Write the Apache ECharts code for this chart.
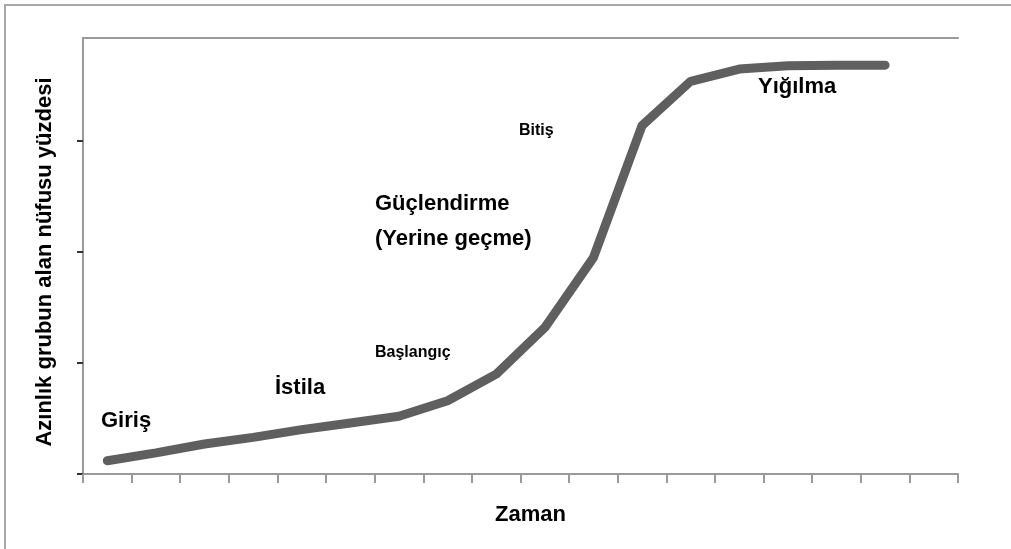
<!DOCTYPE html>
<html>
<head>
<meta charset="utf-8">
<script src="https://cdn.jsdelivr.net/npm/echarts@6/dist/echarts.min.js"></script>
<style>
html,body{margin:0;padding:0;background:#fff;}
#c{width:1011px;height:549px;}
</style>
</head>
<body>
<div id="c"></div>
<script>
// Data
var categories = ['1','2','3','4','5','6','7','8','9','10','11','12','13','14','15','16','17','18'];
var shareValues = [0.12, 0.19, 0.27, 0.33, 0.40, 0.46, 0.52, 0.66, 0.90, 1.32, 1.95, 3.14, 3.54, 3.65, 3.68, 3.685, 3.685, null];
var yTickValues = [0, 1, 2, 3];
var yMax = 3.93;
var xTitle = 'Zaman';
var yTitle = 'Azınlık grubun alan nüfusu yüzdesi';
var stageLabels = ['Giriş', 'İstila', 'Başlangıç', 'Güçlendirme', '(Yerine geçme)', 'Bitiş', 'Yığılma'];

var FONT = '"Liberation Sans", Arial, sans-serif';
var chart = echarts.init(document.getElementById('c'), null, {renderer: 'canvas'});

function lbl(text, x, y, size) {
  return {
    type: 'text', x: x, y: y, silent: true,
    style: {text: text, fill: '#000', font: 'bold ' + size + 'px ' + FONT, textAlign: 'left', textVerticalAlign: 'middle'}
  };
}

chart.setOption({
  animation: false,
  backgroundColor: '#fff',
  grid: {left: 83, right: 53, top: 38, bottom: 75, containLabel: false},
  xAxis: [{
    type: 'category', data: categories, boundaryGap: true, position: 'bottom',
    axisLine: {show: true, lineStyle: {color: '#9a9a9a', width: 2}},
    axisTick: {show: true, interval: 0, length: 9, lineStyle: {color: '#9a9a9a', width: 2}},
    axisLabel: {show: false},
    splitLine: {show: false},
    name: xTitle, nameLocation: 'middle', nameGap: 30,
    nameTextStyle: {color: '#000', fontFamily: FONT, fontWeight: 'bold', fontSize: 22, padding: [0, 0, 0, 20]}
  }, {
    type: 'category', data: categories, boundaryGap: true, position: 'top',
    axisLine: {show: true, lineStyle: {color: '#9a9a9a', width: 2}},
    axisTick: {show: false}, axisLabel: {show: false}, splitLine: {show: false}
  }],
  yAxis: {
    type: 'value', min: 0, max: yMax, interval: 1,
    axisLine: {show: true, lineStyle: {color: '#9a9a9a', width: 2}},
    axisTick: {show: true, customValues: yTickValues, length: 6, lineStyle: {color: '#333', width: 2}},
    axisLabel: {show: false},
    splitLine: {show: false},
    name: yTitle, nameLocation: 'middle', nameRotate: 90, nameGap: 27,
    nameTextStyle: {color: '#000', fontFamily: FONT, fontWeight: 'bold', fontSize: 22, padding: [0, 12, 0, 0]}
  },
  series: [{
    type: 'line', data: shareValues, xAxisIndex: 0,
    symbol: 'none', smooth: false, connectNulls: false,
    lineStyle: {color: '#5f5f5f', width: 9, cap: 'round', join: 'round'},
    z: 3
  }],
  graphic: [
    {type: 'polyline', silent: true, shape: {points: [[5, 560], [5, 5], [1020, 5]]},
     style: {fill: 'none', stroke: '#a8a8a8', lineWidth: 2}, z: -10},
    lbl(stageLabels[0], 101, 421, 22),
    lbl(stageLabels[1], 275, 388, 22),
    lbl(stageLabels[2], 375, 353, 16),
    lbl(stageLabels[3], 375, 204, 22),
    lbl(stageLabels[4], 375, 239, 22),
    lbl(stageLabels[5], 519, 131, 16),
    lbl(stageLabels[6], 758, 87, 22)
  ]
});
</script>
</body>
</html>
